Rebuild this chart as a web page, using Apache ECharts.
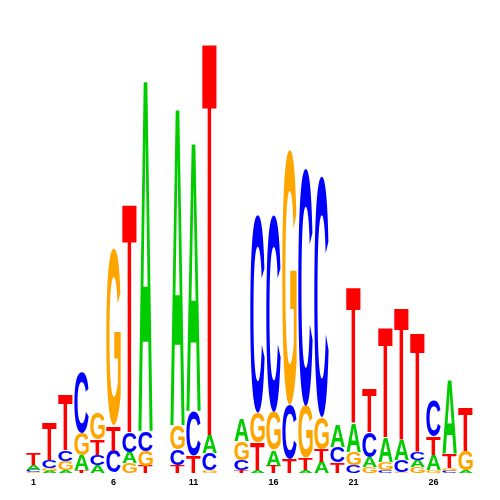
<!DOCTYPE html>
<html>
<head>
<meta charset="utf-8">
<script src="https://cdn.jsdelivr.net/npm/echarts@6/dist/echarts.min.js"></script>
<style>
  html, body { margin: 0; padding: 0; background: #fff; }
  #chart { width: 500px; height: 500px; }
</style>
</head>
<body>
<div id="chart"></div>
<script>
// motif positions 1..28
var positions = ['1', '2', '3', '4', '5', '6', '7', '8', '9', '10', '11', '12', '13', '14',
  '15', '16', '17', '18', '19', '20', '21', '22', '23', '24', '25', '26', '27', '28']

// letter heights in bits
var bitsA = [0.023, 0.009, 0.014, 0.070, 0.037, 0.002, 0.051, 1.650, 0, 1.488, 1.260, 0.084, 0, 0.102,
  0.014, 0.074, 0.002, 0.014, 0.051, 0.102, 0.135, 0.047, 0.116, 0.098, 0.033, 0.070, 0.345, 0.009]
var bitsC = [0.009, 0.037, 0.051, 0.284, 0.047, 0.102, 0.093, 0.093, 0, 0.074, 0.209, 0.079, 0, 0.047,
  0.921, 0.916, 0.251, 1.105, 1.121, 0.074, 0.037, 0.116, 0.014, 0.056, 0.037, 0.163, 0.009, 0.002]
var bitsG = [0.005, 0.014, 0.042, 0.102, 0.121, 0.823, 0.047, 0.070, 0, 0.112, 0.002, 0.014, 0, 0.088,
  0.140, 0.177, 1.186, 0.242, 0.149, 0.002, 0.060, 0.028, 0.037, 0.005, 0.028, 0.014, 0.014, 0.093]
var bitsT = [0.056, 0.172, 0.262, 0.014, 0.074, 0.116, 1.070, 0.033, 0, 0.037, 0.079, 1.843, 0, 0.014,
  0.126, 0.033, 0.065, 0.056, 0.060, 0.047, 0.636, 0.208, 0.512, 0.619, 0.558, 0.084, 0.065, 0.205]

var bases = ['A', 'C', 'G', 'T']
var baseColors = ['#00CC00', '#0000FF', '#FFA500', '#FF0000']

// stack each column, smallest letter at the bottom
var letters = []
positions.forEach(function (p, i) {
  var col = [[0, bitsA[i]], [1, bitsC[i]], [2, bitsG[i]], [3, bitsT[i]]]
    .filter(function (c) { return c[1] > 0 })
    .sort(function (a, b) { return a[1] - b[1] })
  var y0 = 0
  col.forEach(function (c) {
    letters.push([i, y0, y0 + c[1], c[0]])
    y0 += c[1]
  })
})

// ink box of each glyph, so a letter can be stretched to fill its cell
var FONT = 'bold 100px "Liberation Sans"'
var ctx = document.createElement('canvas').getContext('2d')
ctx.font = FONT
ctx.textAlign = 'center'
ctx.textBaseline = 'middle'
var ink = bases.map(function (b) {
  var m = ctx.measureText(b)
  return { l: m.actualBoundingBoxLeft, r: m.actualBoundingBoxRight, a: m.actualBoundingBoxAscent, d: m.actualBoundingBoxDescent }
})

function renderLetter (params, api) {
  var b = letters[params.dataIndex][3]
  var bottom = api.coord([api.value(0), api.value(1)])
  var top = api.coord([api.value(0), api.value(2)])
  var w = api.size([1, 0])[0] * 0.9
  var h = bottom[1] - top[1]
  if (h < 0.4) return
  var g = ink[b]
  var sx = w / (g.l + g.r)
  var sy = h / (g.a + g.d)
  return {
    type: 'text',
    silent: true,
    x: bottom[0] - w / 2 + g.l * sx,
    y: top[1] + g.a * sy,
    scaleX: sx,
    scaleY: sy,
    style: {
      text: bases[b],
      font: FONT,
      fill: baseColors[b],
      align: 'center',
      verticalAlign: 'middle'
    }
  }
}

var myChart = echarts.init(document.getElementById('chart'))
myChart.setOption({
  animation: false,
  grid: { left: 25.5, right: 26.5, top: 43, bottom: 27 },
  xAxis: {
    type: 'category',
    data: positions,
    axisLine: { show: false },
    axisTick: { show: false },
    axisLabel: {
      interval: 4,
      margin: 5,
      fontSize: 9,
      fontWeight: 'bold',
      fontFamily: 'Liberation Sans',
      color: '#000'
    }
  },
  yAxis: {
    type: 'value',
    min: 0,
    max: 2,
    show: false
  },
  series: [{
    type: 'custom',
    renderItem: renderLetter,
    encode: { x: 0, y: [1, 2] },
    data: letters
  }]
})
</script>
</body>
</html>
